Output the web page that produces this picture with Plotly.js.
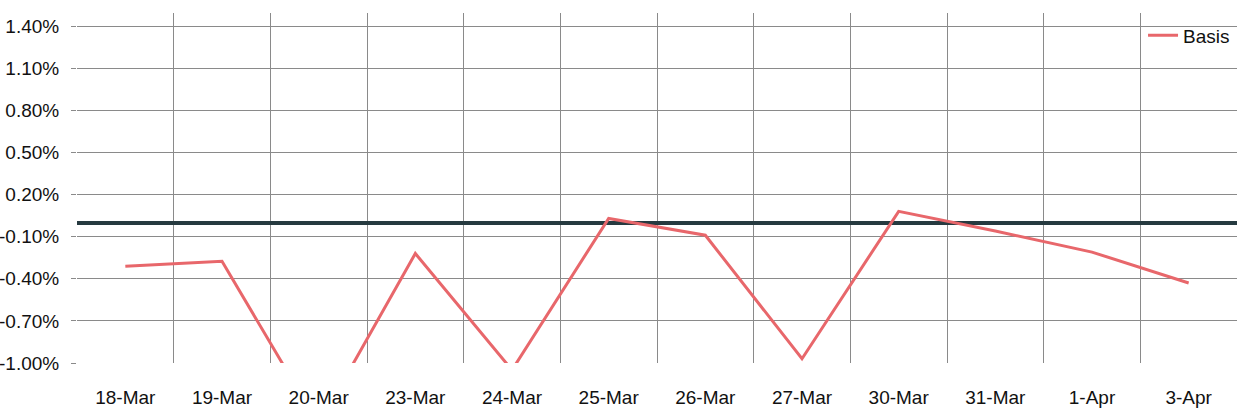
<!DOCTYPE html>
<html>
<head>
<meta charset="utf-8">
<script src="https://cdn.plot.ly/plotly-3.0.1.min.js"></script>
<style>
html,body{margin:0;padding:0;background:#fff;}
#chart{width:1237px;height:416px;}
</style>
</head>
<body>
<div id="chart"></div>
<script>
const categories = ["18-Mar","19-Mar","20-Mar","23-Mar","24-Mar","25-Mar","26-Mar","27-Mar","30-Mar","31-Mar","1-Apr","3-Apr"];
const basisValues = [-0.31, -0.275, -1.44, -0.22, -1.05, 0.03, -0.09, -0.97, 0.08, -0.06, -0.21, -0.43];
const seriesName = "Basis";
const yTickValues = [-1.0, -0.7, -0.4, -0.1, 0.2, 0.5, 0.8, 1.1, 1.4];
const yTickLabels = ["-1.00%","-0.70%","-0.40%","-0.10%","0.20%","0.50%","0.80%","1.10%","1.40%"];

const FONT = "'Liberation Sans', Arial, sans-serif";

const trace = {
  x: categories,
  y: basisValues,
  type: "scatter",
  mode: "lines",
  name: seriesName,
  line: {color: "#e8676b", width: 3},
  cliponaxis: true
};

const layout = {
  width: 1237,
  height: 416,
  margin: {l: 77, r: 0, t: 13, b: 53},
  paper_bgcolor: "#ffffff",
  plot_bgcolor: "#ffffff",
  showlegend: true,
  legend: {
    x: 0.919, xanchor: "left", y: 0.99, yanchor: "top",
    bgcolor: "rgba(0,0,0,0)",
    font: {family: FONT, size: 19, color: "#111"},
    itemwidth: 30
  },
  xaxis: {
    type: "category",
    tickson: "boundaries",
    showgrid: true,
    gridcolor: "#8a8a8a",
    gridwidth: 1,
    ticks: "",
    showline: false,
    zeroline: false,
    tickfont: {family: FONT, size: 19, color: "#111"},
    ticklabelstandoff: 21,
    range: [-0.5, categories.length - 0.5],
    fixedrange: true
  },
  yaxis: {
    range: [-1.0, 1.493],
    tickmode: "array",
    tickvals: yTickValues,
    ticktext: yTickLabels,
    showgrid: true,
    gridcolor: "#8a8a8a",
    gridwidth: 1,
    ticks: "outside",
    ticklen: 5,
    tickcolor: "#8a8a8a",
    zeroline: true,
    zerolinecolor: "#263a40",
    zerolinewidth: 4,
    showline: false,
    tickfont: {family: FONT, size: 19, color: "#111"},
    ticklabelstandoff: 8,
    fixedrange: true
  }
};

Plotly.newPlot("chart", [trace], layout, {staticPlot: true, displayModeBar: false});
</script>
</body>
</html>
